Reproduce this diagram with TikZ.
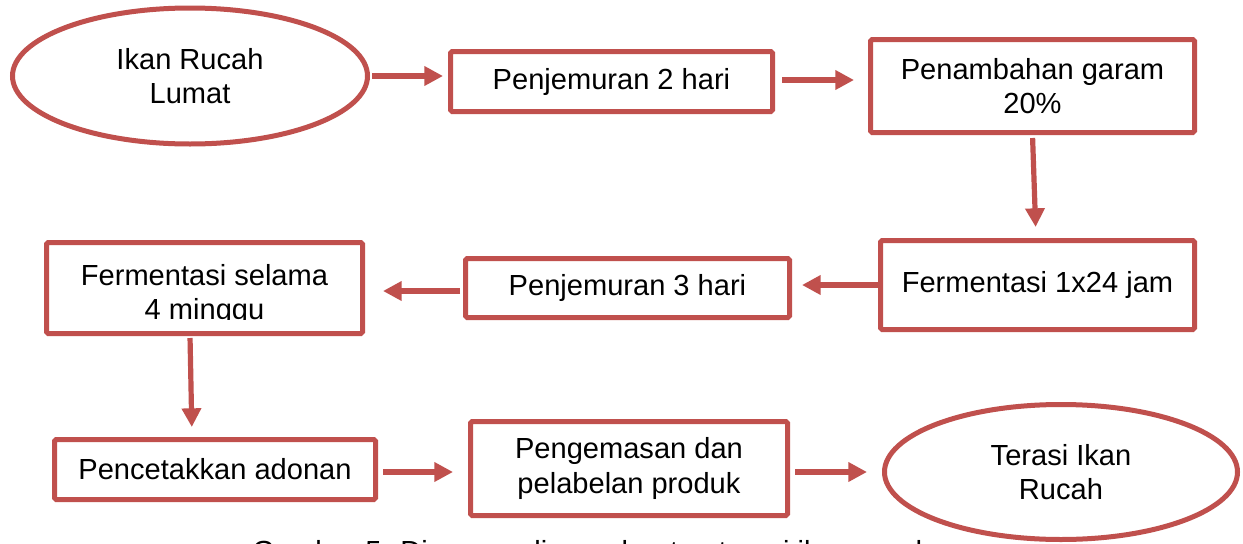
\documentclass[tikz,border=0pt]{standalone}
\usepackage{fontspec}
\setmainfont{Liberation Sans}
\usetikzlibrary{arrows.meta,shapes.geometric}
\definecolor{accred}{HTML}{C0504D}
\begin{document}
\begin{tikzpicture}[x=0.75pt,y=-0.75pt,
  every node/.style={font=\fontsize{21.8}{26}\selectfont, align=center, text=black},
  stepbox/.style={draw=accred, line width=3.75pt, rounded corners=1.2pt, fill=white, inner sep=0pt},
  oval/.style={ellipse, draw=accred, line width=3.75pt, inner sep=0pt},
  arr/.style={draw=accred, line width=3.9pt, -{Triangle[length=14pt,width=14pt]}}
]
\useasboundingbox (0,0) rectangle (1243,543);
\fill[white] (0,0) rectangle (1243,543);

\node[oval, minimum width=355*0.75pt, minimum height=136*0.75pt] (e1) at (190,76) {Ikan Rucah\\Lumat};
\node[stepbox, minimum width=322*0.75pt, minimum height=60*0.75pt] (b2) at (611.5,81.5) {Penjemuran 2 hari};
\node[stepbox, minimum width=324*0.75pt, minimum height=93*0.75pt] (b3) at (1032.5,86) {Penambahan garam\\20\%};
\node[stepbox, minimum width=314*0.75pt, minimum height=89*0.75pt] (b4) at (1037.5,285) {Fermentasi 1x24 jam};
\node[stepbox, minimum width=324*0.75pt, minimum height=59*0.75pt] (b5) at (627.5,288) {Penjemuran 3 hari};
\node[stepbox, minimum width=316*0.75pt, minimum height=91*0.75pt] (b6) at (204.5,288) {};
\begin{scope}
  \clip (44,240) rectangle (365,319);
  \node (t6) at (b6) [yshift=-7*0.75pt] {Fermentasi selama\\4 minggu};
\end{scope}
\node[stepbox, minimum width=321*0.75pt, minimum height=60*0.75pt] (b7) at (215,469.5) {Pencetakkan adonan};
\node[stepbox, minimum width=317*0.75pt, minimum height=94*0.75pt] (b8) at (629,468.5) {Pengemasan dan\\pelabelan produk};
\node[oval, minimum width=353*0.75pt, minimum height=135*0.75pt] (e2) at (1061,472) {Terasi Ikan\\Rucah};

\path[arr, shorten <=2*0.75pt, shorten >=5*0.75pt] (e1.east) -- (b2.west |- e1.east);
\path[arr, shorten <=7*0.75pt, shorten >=14*0.75pt] (b2.east |- 0,80) -- (b3.west |- 0,80);
\path[arr, shorten <=3*0.75pt, shorten >=11*0.75pt] (b3.south) -- ([xshift=-1.5*0.75pt]b4.north);
\path[arr, shorten >=10*0.75pt] (b4.west) -- (b5.east |- b4.west);
\path[arr, shorten <=3*0.75pt, shorten >=18*0.75pt] (b5.west |- 0,291) -- (b6.east |- 0,291);
\path[arr, shorten <=2*0.75pt, shorten >=10*0.75pt] ([xshift=-14.5*0.75pt]b6.south) -- ([xshift=-23*0.75pt]b7.north);
\path[arr, shorten <=5*0.75pt, shorten >=15*0.75pt] (b7.east |- 0,472) -- (b8.west |- 0,472);
\path[arr, shorten <=5*0.75pt, shorten >=15*0.75pt] (b8.east |- 0,472) -- (e2.west |- 0,472);

\begin{scope}
  \clip (0,0) rectangle (1243,543);
  \node[anchor=base west, inner sep=0pt] (cap) at (252,561) {Gambar 5. Diagram alir pembuatan terasi ikan rucah};
\end{scope}
\end{tikzpicture}
\end{document}
